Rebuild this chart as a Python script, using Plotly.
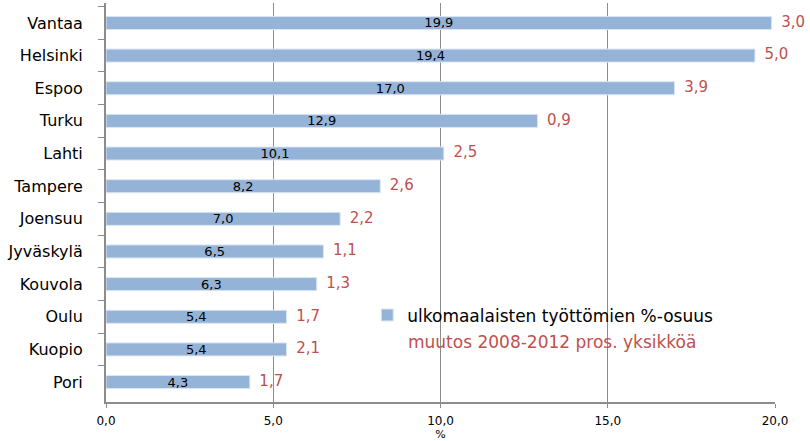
import plotly.graph_objects as go

cities = ["Vantaa", "Helsinki", "Espoo", "Turku", "Lahti", "Tampere", "Joensuu",
          "Jyväskylä", "Kouvola", "Oulu", "Kuopio", "Pori"]
share = [19.9, 19.4, 17.0, 12.9, 10.1, 8.2, 7.0, 6.5, 6.3, 5.4, 5.4, 4.3]
change = [3.0, 5.0, 3.9, 0.9, 2.5, 2.6, 2.2, 1.1, 1.3, 1.7, 2.1, 1.7]
x_ticks = [0, 5, 10, 15, 20]
x_tick_labels = ["0,0", "5,0", "10,0", "15,0", "20,0"]

FONT = "DejaVu Sans"
RED = "#C0504D"

fig = go.Figure()
fig.add_trace(go.Bar(
    y=cities, x=share, orientation="h",
    name="ulkomaalaisten työttömien %-osuus",
    marker=dict(color="#95B3D7", line=dict(color="#DCE6F2", width=1)),
    width=0.40,
    texttemplate="%{x:.1f}", textposition="inside", insidetextanchor="middle",
    textfont=dict(family=FONT, size=13, color="#000000"),
    constraintext="none",
    cliponaxis=False,
))
fig.add_trace(go.Scatter(
    y=cities, x=share, mode="text", customdata=change,
    texttemplate="  %{customdata:.1f}", textposition="middle right",
    textfont=dict(family=FONT, size=15, color=RED),
    showlegend=False, cliponaxis=False, hoverinfo="skip",
))

fig.update_layout(
    width=810, height=441,
    margin=dict(l=106, r=35, t=3, b=39, autoexpand=False),
    paper_bgcolor="white", plot_bgcolor="white",
    separators=", ",
    font=dict(family=FONT, size=12, color="#000000"),
    showlegend=True,
    legend=dict(x=0.3905, y=0.262, xanchor="left", yanchor="top",
                bgcolor="rgba(0,0,0,0)", font=dict(family=FONT, size=17, color="#000000"),
                itemwidth=30, tracegroupgap=0),
    annotations=[dict(text="muutos 2008-2012 pros. yksikköä", x=0.448, y=0.150,
                      xref="paper", yref="paper", xanchor="left", yanchor="middle",
                      showarrow=False, font=dict(family=FONT, size=17, color=RED))],
)
fig.update_xaxes(
    range=[0, 20], tickvals=x_ticks, ticktext=x_tick_labels,
    showgrid=True, gridcolor="#8C8C8C", gridwidth=1,
    showline=True, linecolor="#8C8C8C", linewidth=2,
    ticks="outside", ticklen=4, tickcolor="#8C8C8C",
    tickfont=dict(family=FONT, size=12, color="#000000"),
    ticklabelstandoff=3,
    zeroline=False, automargin=False,
    title=dict(text="%", font=dict(family=FONT, size=11), standoff=0),
)
fig.update_yaxes(
    categoryorder="array", categoryarray=cities, autorange="reversed",
    showline=True, linecolor="#8C8C8C", linewidth=2,
    ticks="outside", ticklen=6, tickcolor="#8C8C8C", tickson="boundaries",
    tickfont=dict(family=FONT, size=16, color="#000000"),
    showgrid=False, ticklabelstandoff=18, automargin=False,
)

fig.write_html("out.html", config={"displayModeBar": False},
               post_script="document.body.style.margin='0';")
